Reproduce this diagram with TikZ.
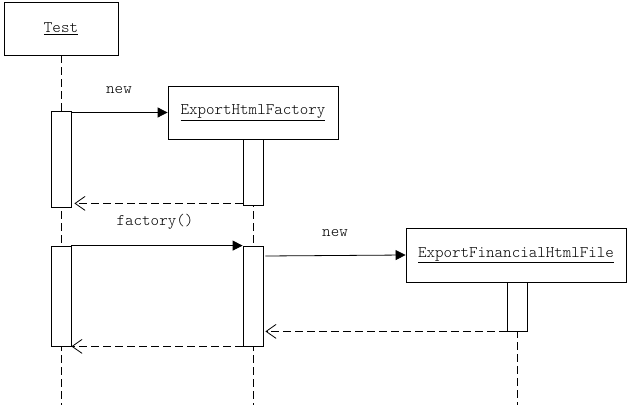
\documentclass[tikz,border=0pt]{standalone}
\usepackage{fontspec}
\newfontfamily\diagmono{Latin Modern Mono Light}
\usetikzlibrary{arrows.meta}
\begin{document}
\begin{tikzpicture}[x=1pt,y=-1pt,
  every node/.style={font=\diagmono\fontsize{16.2}{18}\selectfont, inner sep=0pt},
  obj/.style={draw, line width=0.8pt, minimum height=53pt},
  act/.style={draw, fill=white, line width=0.8pt, minimum width=20pt},
  life/.style={line width=0.8pt, dash pattern=on 8pt off 4pt},
  msg/.style={line width=0.8pt, -{Triangle[length=10pt,width=10pt]}},
  ret/.style={line width=0.8pt, dash pattern=on 8pt off 4pt, -{Straight Barb[length=10pt,width=14pt,line width=0.8pt]}},
  lbl/.style={}]
\useasboundingbox (0,0) rectangle (632,409);
% objects
\node[obj, minimum width=114pt] (test) at (61,28.5) {\underline{Test}};
\node[obj, minimum width=170pt] (fac) at (253,112.5) {\underline{ExportHtmlFactory}};
\node[obj, minimum width=220pt, minimum height=54pt] (fin) at (516,255) {\underline{ExportFinancialHtmlFile}};
% lifeline ends
\coordinate (testend) at (61,405);
\coordinate (facend) at (253,405);
\coordinate (finend) at (517,405);
\draw[life] (test.south) -- (testend);
\draw[life] (fac.south) -- (facend);
\draw[life] (finend |- fin.south) -- (finend);
% activations
\node[act, minimum height=96pt] (act1) at (61,159) {};
\node[act, minimum height=100pt] (act2) at (61,296) {};
\node[act, minimum height=66pt] (facact1) at (253,172) {};
\node[act, minimum height=100pt] (facact2) at (253,296) {};
\node[act, minimum height=49pt] (finact) at (517,306.5) {};
% messages
\draw[msg] (act1.east |- fac.west) -- (fac.west);
\node[lbl] (l1) at (119,90) {new};
\draw[ret] ([yshift=2pt]facact1.south west) -- ([xshift=3pt,yshift=2pt]act1.east |- facact1.south west);
\draw[msg] (act2.north east) -- (facact2.north west);
\node[lbl] (l2) at (155,222) {factory()};
\draw[msg] ([xshift=2pt,yshift=-1pt]facact2.east |- fin.west) -- (fin.west);
\node[lbl] (l3) at (335,233) {new};
\draw[ret] (finact.south west) -- ([xshift=2pt]facact2.east |- finact.south west);
\draw[ret] (facact2.south west) -- (act2.south east);
\end{tikzpicture}
\end{document}
